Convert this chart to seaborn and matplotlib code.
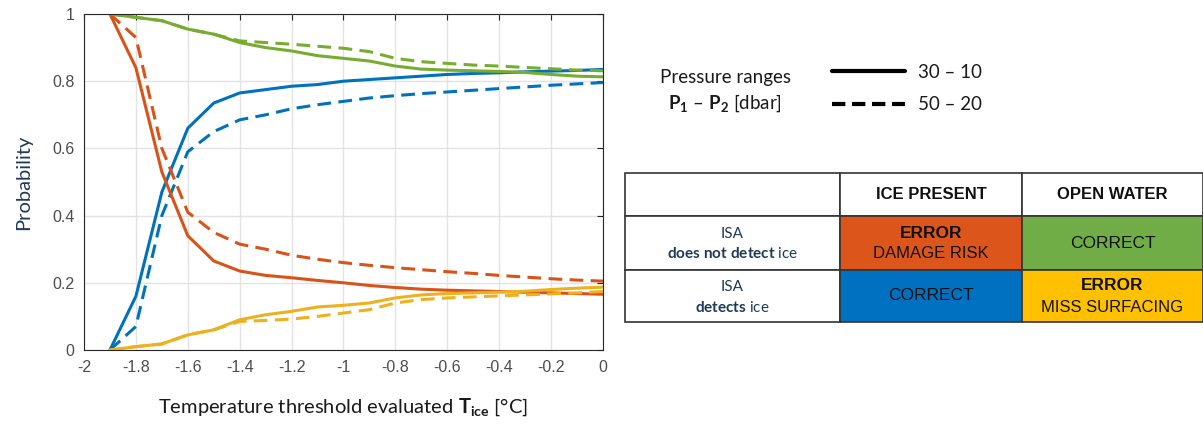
import numpy as np
import pandas as pd
import matplotlib
matplotlib.use("Agg")
import matplotlib.pyplot as plt
import seaborn as sns
from matplotlib.patches import Rectangle
from matplotlib.lines import Line2D

# ---------------- data ----------------
T = [-1.9, -1.8, -1.7, -1.6, -1.5, -1.4, -1.3, -1.2, -1.1, -1.0,
     -0.9, -0.8, -0.7, -0.6, -0.5, -0.4, -0.3, -0.2, -0.1, 0.0]

blue_30_10 = [0.0, 0.16, 0.47, 0.66, 0.735, 0.765, 0.775, 0.785, 0.79, 0.80,
              0.805, 0.81, 0.815, 0.82, 0.823, 0.825, 0.828, 0.83, 0.832, 0.835]
blue_50_20 = [0.0, 0.07, 0.40, 0.59, 0.65, 0.685, 0.70, 0.718, 0.73, 0.74,
              0.75, 0.757, 0.763, 0.768, 0.773, 0.778, 0.783, 0.788, 0.792, 0.796]
orange_30_10 = [1.0, 0.84, 0.53, 0.34, 0.265, 0.235, 0.222, 0.215, 0.207, 0.20,
                0.192, 0.186, 0.181, 0.178, 0.176, 0.174, 0.172, 0.170, 0.168, 0.166]
orange_50_20 = [1.0, 0.93, 0.60, 0.41, 0.35, 0.315, 0.30, 0.282, 0.27, 0.26,
                0.252, 0.245, 0.239, 0.233, 0.228, 0.222, 0.217, 0.212, 0.208, 0.205]
green_30_10 = [1.0, 0.99, 0.98, 0.955, 0.94, 0.915, 0.90, 0.89, 0.876, 0.868,
               0.86, 0.845, 0.836, 0.833, 0.831, 0.829, 0.826, 0.82, 0.815, 0.813]
green_50_20 = [1.0, 0.99, 0.98, 0.955, 0.94, 0.92, 0.915, 0.91, 0.904, 0.898,
               0.888, 0.868, 0.858, 0.853, 0.848, 0.845, 0.841, 0.837, 0.833, 0.831]
yellow_30_10 = [0.0, 0.01, 0.018, 0.045, 0.06, 0.09, 0.105, 0.115, 0.128, 0.133,
                0.14, 0.155, 0.164, 0.168, 0.170, 0.172, 0.175, 0.18, 0.184, 0.187]
yellow_50_20 = [0.0, 0.01, 0.018, 0.045, 0.06, 0.085, 0.088, 0.092, 0.10, 0.11,
                0.12, 0.14, 0.15, 0.155, 0.158, 0.161, 0.164, 0.167, 0.17, 0.174]

outcomes = ["correct_ice", "damage_risk", "correct_water", "miss_surfacing"]
ranges = ["30 – 10", "50 – 20"]
series = {
    ("correct_ice", "30 – 10"): blue_30_10,
    ("correct_ice", "50 – 20"): blue_50_20,
    ("damage_risk", "30 – 10"): orange_30_10,
    ("damage_risk", "50 – 20"): orange_50_20,
    ("correct_water", "30 – 10"): green_30_10,
    ("correct_water", "50 – 20"): green_50_20,
    ("miss_surfacing", "30 – 10"): yellow_30_10,
    ("miss_surfacing", "50 – 20"): yellow_50_20,
}

rows = []
for (o, r), vals in series.items():
    for t, v in zip(T, vals):
        rows.append({"T": t, "P": v, "outcome": o, "range": r})
df = pd.DataFrame(rows)

line_colors = {"correct_ice": "#0072BD", "damage_risk": "#D95319",
               "correct_water": "#77AC30", "miss_surfacing": "#EDB120"}

# ---------------- figure ----------------
sns.set_style("white")
plt.rcParams["font.family"] = ["Liberation Sans", "DejaVu Sans"]
plt.rcParams["mathtext.fontset"] = "custom"
plt.rcParams["mathtext.rm"] = "Lato"
plt.rcParams["mathtext.bf"] = "Lato:bold"
plt.rcParams["mathtext.it"] = "Lato:italic"

W, H = 1203, 425
fig = plt.figure(figsize=(W / 100, H / 100), dpi=100)
fig.patch.set_facecolor("white")

ax = fig.add_axes([84 / W, 1 - 350 / H, (603 - 84) / W, (350 - 14) / H])
sns.lineplot(data=df, x="T", y="P", hue="outcome", style="range",
             palette=line_colors, hue_order=outcomes, style_order=ranges,
             dashes={"30 – 10": "", "50 – 20": (4.5, 2.4)},
             linewidth=2.2, legend=False, ax=ax, estimator=None, sort=False)

ax.set_xlim(-2, 0)
ax.set_ylim(0, 1)
ax.set_xticks(np.arange(-2, 0.01, 0.2))
ax.set_xticklabels(["-2", "-1.8", "-1.6", "-1.4", "-1.2", "-1", "-0.8",
                    "-0.6", "-0.4", "-0.2", "0"])
ax.set_yticks([0, 0.2, 0.4, 0.6, 0.8, 1])
ax.set_yticklabels(["0", "0.2", "0.4", "0.6", "0.8", "1"])
ax.grid(True, which="major", color="#e3e3e3", linewidth=1)
ax.set_axisbelow(True)
ax.tick_params(axis="both", which="major", direction="in", length=4,
               colors="#262626", labelcolor="#4d4d4d", labelsize=11.5,
               top=True, right=True, pad=7)
for s in ax.spines.values():
    s.set_color("#262626")
    s.set_linewidth(0.8)
ax.set_xlabel(r"Temperature threshold evaluated $\mathbf{T}_{\mathbf{ice}}$ [°C]",
              family="Lato", fontsize=14.5, color="#1a1a1a", labelpad=16)
ax.set_ylabel("Probability", family="Lato", fontsize=14.5, color="#1f3a5a", labelpad=14)

# ---------------- overlay for legend + table ----------------
ov = fig.add_axes([0, 0, 1, 1])
ov.set_xlim(0, W)
ov.set_ylim(H, 0)
ov.axis("off")

ov.text(725, 77, "Pressure ranges", family="Lato", fontsize=13.5,
        ha="center", va="center", color="#1a1a1a")
ov.text(725, 103, r"$\mathbf{P}_{\mathbf{1}}$ – $\mathbf{P}_{\mathbf{2}}$ [dbar]",
        family="Lato", fontsize=13.5, ha="center", va="center", color="#1a1a1a")
ov.add_line(Line2D([832, 905], [71, 71], color="black", lw=3))
ov.add_line(Line2D([832, 905], [104, 104], color="black", lw=3, dashes=(3.2, 1.6)))
ov.text(918, 72, "30 – 10", family="Lato", fontsize=13.5, ha="left", va="center",
        color="#1a1a1a")
ov.text(918, 104, "50 – 20", family="Lato", fontsize=13.5, ha="left", va="center",
        color="#1a1a1a")

cols = [625, 840, 1022, 1203]
rws = [173, 216, 270, 322]
cell_colors = [["white", "white", "white"],
               ["white", "#DC561C", "#70AD47"],
               ["white", "#0070C0", "#FFC000"]]
for i in range(3):
    for j in range(3):
        ov.add_patch(Rectangle((cols[j], rws[i]), cols[j + 1] - cols[j],
                               rws[i + 1] - rws[i], facecolor=cell_colors[i][j],
                               edgecolor="#333333", lw=1.2))
cx = [(cols[k] + cols[k + 1]) / 2 for k in range(3)]
cy = [(rws[k] + rws[k + 1]) / 2 for k in range(3)]

ov.text(cx[1], cy[0], "ICE PRESENT", fontsize=12, weight="bold", ha="center",
        va="center", color="#111111")
ov.text(cx[2], cy[0], "OPEN WATER", fontsize=12, weight="bold", ha="center",
        va="center", color="#111111")

ov.text(cx[0], cy[1] - 9, "ISA", family="Lato", fontsize=11, ha="center",
        va="center", color="#1f3a5a")
ov.text(cx[0], cy[1] + 11, r"$\mathbf{does\ not\ detect}$ ice", family="Lato",
        fontsize=11, ha="center", va="center", color="#1f3a5a")
ov.text(cx[0], cy[2] - 9, "ISA", family="Lato", fontsize=11, ha="center",
        va="center", color="#1f3a5a")
ov.text(cx[0], cy[2] + 11, r"$\mathbf{detects}$ ice", family="Lato",
        fontsize=11, ha="center", va="center", color="#1f3a5a")

ov.text(cx[1], cy[1] - 10, "ERROR", fontsize=12.5, weight="bold", ha="center",
        va="center", color="#111111")
ov.text(cx[1], cy[1] + 11, "DAMAGE RISK", fontsize=12, ha="center",
        va="center", color="#111111")
ov.text(cx[2], cy[1], "CORRECT", fontsize=12.5, ha="center", va="center",
        color="#111111")
ov.text(cx[1], cy[2], "CORRECT", fontsize=12.5, ha="center", va="center",
        color="#111111")
ov.text(cx[2], cy[2] - 10, "ERROR", fontsize=12.5, weight="bold", ha="center",
        va="center", color="#111111")
ov.text(cx[2], cy[2] + 11, "MISS SURFACING", fontsize=12, ha="center",
        va="center", color="#111111")

fig.savefig("out.png", dpi=100, facecolor="white")
